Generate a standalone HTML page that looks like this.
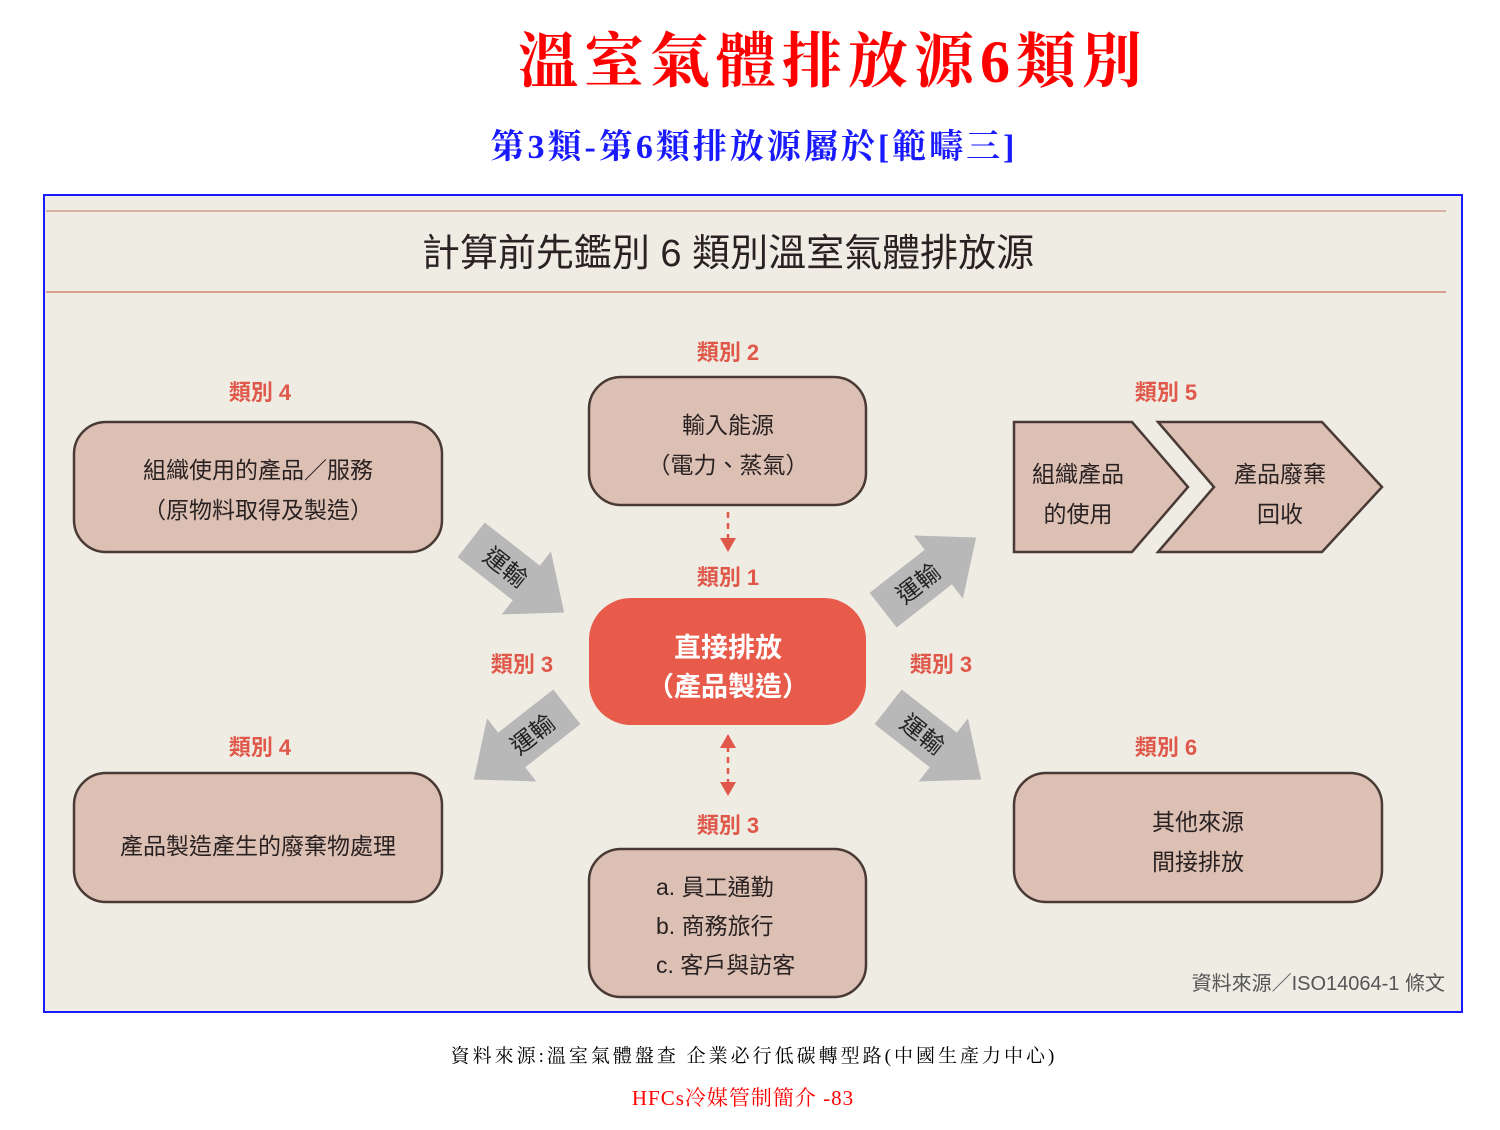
<!DOCTYPE html>
<html><head><meta charset="utf-8"><style>
body{margin:0;background:#fff;}
svg text{font-family:"Liberation Sans","Noto Sans CJK TC",sans-serif;}
</style></head><body>
<svg width="1500" height="1125" viewBox="0 0 1500 1125" xmlns="http://www.w3.org/2000/svg">
<rect width="1500" height="1125" fill="#fff"/>
<text x="833" y="82" text-anchor="middle" font-size="60" font-weight="bold" fill="#ff0000" letter-spacing="6" style="font-family:'Liberation Serif','Noto Serif CJK SC',serif">溫室氣體排放源6類別</text>
<text x="754" y="158" text-anchor="middle" font-size="34" font-weight="bold" fill="#1a1aff" letter-spacing="3" style="font-family:'Liberation Serif','Noto Serif CJK SC',serif">第3類-第6類排放源屬於[範疇三]</text>
<rect x="44" y="195" width="1418" height="817" fill="#efece4" stroke="#1a1aff" stroke-width="2"/>
<line x1="46" y1="211" x2="1446" y2="211" stroke="#d8b0a4" stroke-width="2"/>
<line x1="46" y1="292" x2="1446" y2="292" stroke="#d8a090" stroke-width="2"/>
<text x="728" y="266" text-anchor="middle" font-size="38" fill="#2a2222">計算前先鑑別 6 類別溫室氣體排放源</text>
<g fill="#dcc0b4" stroke="#4a3a35" stroke-width="2.5">
<rect x="74" y="422" width="368" height="130" rx="32"/>
<rect x="589" y="377" width="277" height="128" rx="32"/>
<rect x="74" y="773" width="368" height="129" rx="32"/>
<rect x="589" y="849" width="277" height="148" rx="32"/>
<rect x="1014" y="773" width="368" height="129" rx="32"/>
<polygon points="1014,422 1132,422 1188,487 1132,552 1014,552"/>
<polygon points="1158,422 1322,422 1382,487 1322,552 1158,552 1214,487"/>
</g>
<rect x="589" y="598" width="277" height="127" rx="42" fill="#e85a4a"/>
<g fill="#e0584a" font-size="22" font-weight="bold" text-anchor="middle">
<text x="728" y="360">類別 2</text>
<text x="260" y="400">類別 4</text>
<text x="1166" y="400">類別 5</text>
<text x="728" y="585">類別 1</text>
<text x="522" y="672">類別 3</text>
<text x="941" y="672">類別 3</text>
<text x="260" y="755">類別 4</text>
<text x="1166" y="755">類別 6</text>
<text x="728" y="833">類別 3</text>
</g>
<g fill="#2a2222" font-size="23" text-anchor="middle">
<text x="258" y="478">組織使用的產品／服務</text>
<text x="258" y="518">（原物料取得及製造）</text>
<text x="728" y="433">輸入能源</text>
<text x="728" y="473">（電力、蒸氣）</text>
<text x="258" y="854">產品製造產生的廢棄物處理</text>
<text x="1198" y="830">其他來源</text>
<text x="1198" y="870">間接排放</text>
<text x="1078" y="482">組織產品</text>
<text x="1078" y="522">的使用</text>
<text x="1280" y="482">產品廢棄</text>
<text x="1280" y="522">回收</text>
<text x="656" y="895" text-anchor="start">a. 員工通勤</text>
<text x="656" y="934" text-anchor="start">b. 商務旅行</text>
<text x="656" y="973" text-anchor="start">c. 客戶與訪客</text>
</g>
<g fill="#fff" font-size="27" font-weight="bold" text-anchor="middle">
<text x="728" y="657">直接排放</text>
<text x="728" y="696">（產品製造）</text>
</g>
<g stroke="#e0584a" stroke-width="2.5" stroke-dasharray="6,5">
<line x1="728" y1="512" x2="728" y2="540"/>
<line x1="728" y1="746" x2="728" y2="784"/>
</g>
<g fill="#e0584a">
<polygon points="720,538 736,538 728,552"/>
<polygon points="720,748 736,748 728,734"/>
<polygon points="720,782 736,782 728,796"/>
</g>
<defs><polygon id="ar" points="-62,-22 8,-22 8,-40 56,0 8,40 8,22 -62,22" fill="#b8b8b8"/></defs>
<g transform="translate(520,578) rotate(38)"><use href="#ar"/><text x="-18" y="9" font-size="24" fill="#222" text-anchor="middle">運輸</text></g>
<g transform="translate(932,572) rotate(-38)"><use href="#ar"/><text x="-18" y="9" font-size="24" fill="#222" text-anchor="middle">運輸</text></g>
<g transform="translate(518,745) rotate(142)"><use href="#ar"/><text x="-18" y="9" font-size="24" fill="#222" text-anchor="middle" transform="rotate(180 -18 0)">運輸</text></g>
<g transform="translate(937,745) rotate(38)"><use href="#ar"/><text x="-18" y="9" font-size="24" fill="#222" text-anchor="middle">運輸</text></g>
<text x="1445" y="990" text-anchor="end" font-size="20" fill="#555">資料來源／ISO14064-1 條文</text>
<text x="754" y="1062" text-anchor="middle" font-size="19" fill="#000" letter-spacing="3" style="font-family:'Liberation Serif','Noto Serif CJK SC',serif">資料來源:溫室氣體盤查 企業必行低碳轉型路(中國生產力中心)</text>
<text x="743" y="1105" text-anchor="middle" font-size="21" fill="#ff0000" letter-spacing="1" style="font-family:'Liberation Serif','Noto Serif CJK SC',serif">HFCs冷媒管制簡介 -83</text>
</svg>
</body></html>
